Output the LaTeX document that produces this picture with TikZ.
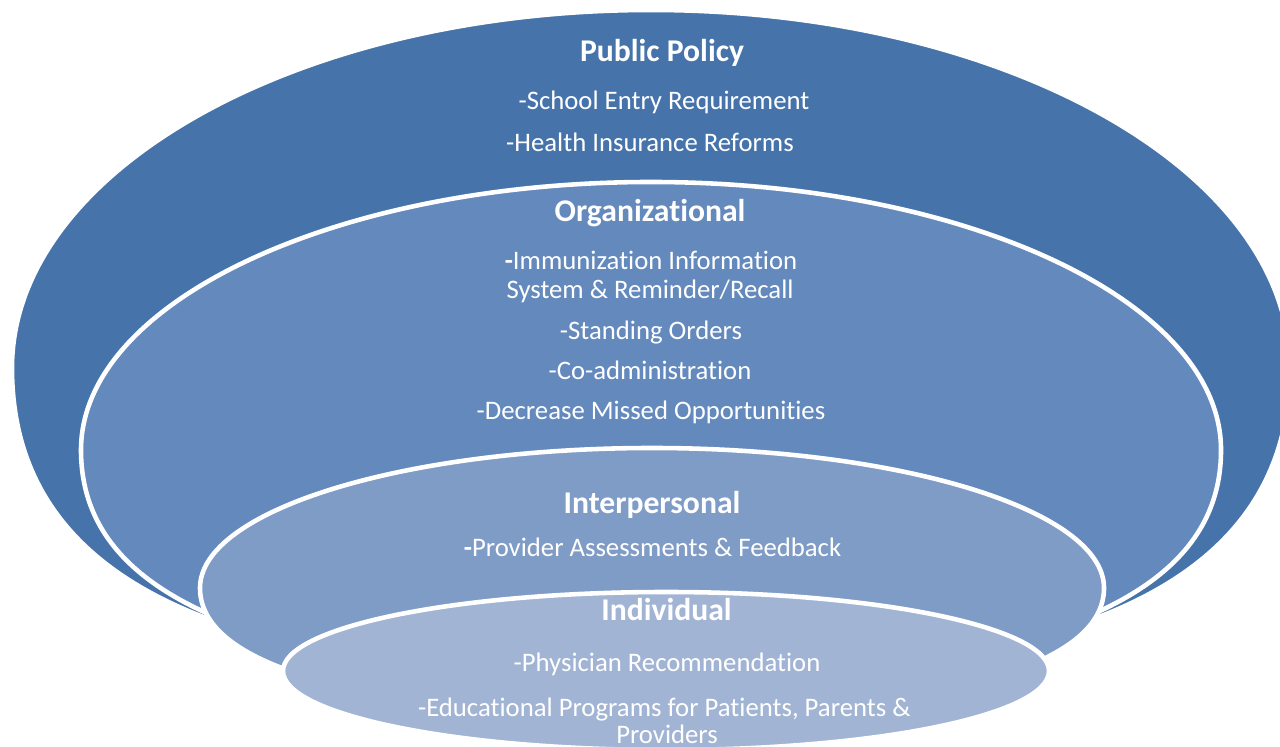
\documentclass[tikz,border=0pt]{standalone}
\usepackage{fontspec}
\setmainfont{Carlito}[Ligatures={NoCommon,NoContextual}]
\definecolor{cPolicy}{RGB}{70,116,170}
\definecolor{cOrg}{RGB}{99,137,189}
\definecolor{cInter}{RGB}{127,156,198}
\definecolor{cIndiv}{RGB}{162,180,212}
\tikzset{
  layer/.style={draw=white, line width=1.3pt, line join=round},
  head/.style={anchor=base, text=white, inner sep=0pt, font=\fontsize{9}{10}\selectfont\bfseries},
  item/.style={anchor=base, text=white, inner sep=0pt, font=\fontsize{7.6}{8.3}\selectfont},
}
% #1 cx, #2 cy, #3 a, #4 b, #5 h, #6 u, #7 v, #8 T, #9 colour
\newcommand{\funnellayer}[9]{%
  \path[layer, fill=#9] (#1-#3,#2) arc[start angle=180, end angle=0, x radius=#3, y radius=#4]
    .. controls (#1+#3,#2-#5) and (#1+#3-#6,#2-#7) .. (#1,#2-#8)
    .. controls (#1-#3+#6,#2-#7) and (#1-#3,#2-#5) .. cycle;}
\begin{document}
\begin{tikzpicture}[x=0.01cm, y=0.01cm]
\useasboundingbox (0,0) rectangle (1280,746);
% layers
\funnellayer{651}{378}{639}{358}{218}{220}{312}{304}{cPolicy}
\funnellayer{651}{296}{570}{268}{150}{180}{220}{240}{cOrg}
\funnellayer{652}{158}{452}{140}{65}{110}{120}{130}{cInter}
\path[layer, fill=cIndiv] (666,75) ellipse[x radius=383, y radius=79];
% Public Policy
\node[head] (pp) at (662,684.3) {Public Policy};
\node[item] (pp1) at (664,636) {-School Entry Requirement};
\node[item] (pp2) at (650,594.3) {-Health Insurance Reforms};
% Organizational
\node[head] (org) at (650,524.3) {Organizational};
\node[item] (org1) at (651,476.7) {\textbf{-}Immunization Information};
\node[item] (org1b) at (650,447.7) {System \& Reminder/Recall};
\node[item] (org2) at (651,406.7) {-Standing Orders};
\node[item] (org3) at (650,366) {-Co-administration};
\node[item] (org4) at (651,326) {-Decrease Missed Opportunities};
% Interpersonal
\node[head] (ip) at (652,232.7) {Interpersonal};
\node[item] (ip1) at (652.5,189.3) {\textbf{-}Provider Assessments \& Feedback};
% Individual
\node[head] (ind) at (666.5,125.7) {Individual};
\node[item] (ind1) at (667,74.4) {-Physician Recommendation};
\node[item] (ind2) at (664.3,29.3) {-Educational Programs for Patients, Parents \&};
\node[item] (ind2b) at (667,3) {Providers};
\end{tikzpicture}
\end{document}
